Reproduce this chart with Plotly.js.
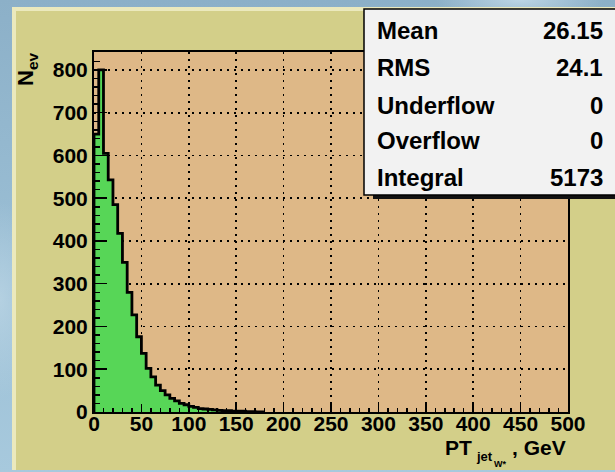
<!DOCTYPE html>
<html>
<head>
<meta charset="utf-8">
<script src="https://cdn.plot.ly/plotly-3.0.1.min.js"></script>
<style>
  html, body { margin: 0; padding: 0; }
  body {
    width: 615px; height: 472px; overflow: hidden; position: relative;
    background:
      radial-gradient(ellipse 60px 140px at 0px 300px, rgba(190,215,230,0.7), rgba(190,215,230,0) 70%),
      radial-gradient(ellipse 120px 30px at 520px 0px, rgba(200,222,235,0.8), rgba(200,222,235,0) 70%),
      linear-gradient(180deg, #8cb0c8 0%, #9cc0d6 60%, #a7c9dd 100%);
  }
  #panel {
    position: absolute; left: 12px; top: 7px; width: 599px; height: 459px;
    background: #d3cf89;
    border-left: 4px solid #ebe9bd; border-top: 4px solid #ebe9bd;
  }
  #chart { position: absolute; left: 0; top: 0; width: 615px; height: 472px; }
</style>
</head>
<body>
<div id="panel"></div>
<div id="chart"></div>
<script>
// Jet transverse momentum histogram, 5 GeV bins starting at 0
const binWidth = 5;
const counts = [650, 800, 605, 543, 485, 418, 350, 280, 227, 176,
                137, 102, 82, 63, 50, 40, 32, 26, 20, 17,
                13, 11, 8, 7, 6, 5, 4, 3, 3, 2,
                2, 2, 1, 1, 0, 0];

// Statistics box contents
const statLabels = ['Mean', 'RMS', 'Underflow', 'Overflow', 'Integral'];
const statValues = ['26.15', '24.1', '0', '0', '5173'];

const xRange = [0, 500];
const yRange = [0, 842];

// Frame geometry in pixels
const W = 615, H = 472, L = 94, R = 568, T = 52, B = 412;
const px = x => (x - L) / (R - L);
const py = y => (B - y) / (B - T);

// Step outline: start on the axis, step through the bins, drop back to zero
const stepX = [0], stepY = [0];
counts.forEach((c, i) => { stepX.push(i * binWidth); stepY.push(c); });
stepX.push(counts.length * binWidth); stepY.push(0);

const FONT = 'Liberation Sans, Arial, sans-serif';
const bold = (size, color) => ({family: FONT, size: size, color: color || '#000', weight: 700});

const hist = {
  type: 'scatter', mode: 'lines',
  x: stepX, y: stepY,
  line: {shape: 'hv', color: '#000', width: 2.8},
  fill: 'tozeroy', fillcolor: '#57d657',
  hoverinfo: 'skip', showlegend: false
};

const axisCommon = {
  showline: true, linecolor: '#000', linewidth: 2, mirror: true,
  zeroline: false,
  showgrid: true, gridcolor: '#000', gridwidth: 1.6, griddash: '2px,5px',
  ticks: 'inside', tickcolor: '#000', tickwidth: 1.5,
  tickfont: bold(21)
};

const annotations = [];
statLabels.forEach((lab, i) => {
  const cy = [30, 68, 105, 140, 177][i];
  annotations.push({xref: 'paper', yref: 'paper', x: px(375), y: py(cy),
    xanchor: 'left', yanchor: 'middle', text: lab, showarrow: false, font: bold(24)});
  annotations.push({xref: 'paper', yref: 'paper', x: px(605), y: py(cy),
    xanchor: 'right', yanchor: 'middle', text: statValues[i], showarrow: false, font: bold(24)});
});

// Axis titles, drawn piecewise so the nested subscript sits right
annotations.push({xref: 'paper', yref: 'paper', x: px(27), y: py(70),
  xanchor: 'center', yanchor: 'middle', textangle: -90,
  text: 'N<sub>ev</sub>', showarrow: false, font: bold(22)});
annotations.push({xref: 'paper', yref: 'paper', x: px(568), y: py(447),
  xanchor: 'right', yanchor: 'middle', text: ', GeV', showarrow: false, font: bold(21)});
annotations.push({xref: 'paper', yref: 'paper', x: px(508), y: py(464),
  xanchor: 'right', yanchor: 'middle', text: 'W*', showarrow: false, font: bold(9)});
annotations.push({xref: 'paper', yref: 'paper', x: px(495), y: py(456),
  xanchor: 'right', yanchor: 'middle', text: 'jet', showarrow: false, font: bold(13)});
annotations.push({xref: 'paper', yref: 'paper', x: px(474), y: py(447),
  xanchor: 'right', yanchor: 'middle', text: 'PT', showarrow: false, font: bold(21)});

const shapes = [
  // stats box shadow and body
  {type: 'rect', xref: 'paper', yref: 'paper', x0: px(373), x1: px(620), y0: py(199), y1: py(190),
   fillcolor: '#111', line: {width: 0}, layer: 'above'},
  {type: 'rect', xref: 'paper', yref: 'paper', x0: px(364), x1: px(620), y0: py(195), y1: py(9),
   fillcolor: '#f2f2f2', line: {color: '#000', width: 1.5}, layer: 'above'}
];

const layout = {
  width: W, height: H,
  margin: {l: L, r: W - R, t: T, b: H - B, pad: 0},
  paper_bgcolor: 'rgba(0,0,0,0)',
  plot_bgcolor: '#deb887',
  showlegend: false,
  xaxis: Object.assign({}, axisCommon, {
    range: xRange, dtick: 50, tick0: 0, ticklen: 8, ticklabelstandoff: -8,
    minor: {dtick: 10, ticks: 'inside', ticklen: 4, tickcolor: '#000', tickwidth: 1.5, showgrid: false}
  }),
  yaxis: Object.assign({}, axisCommon, {
    range: yRange, dtick: 100, tick0: 0, ticklen: 13, ticklabelstandoff: 0,
    minor: {dtick: 20, ticks: 'inside', ticklen: 6, tickcolor: '#000', tickwidth: 1.5, showgrid: false}
  }),
  shapes: shapes,
  annotations: annotations
};

Plotly.newPlot('chart', [hist], layout, {staticPlot: true, displayModeBar: false});
</script>
</body>
</html>
